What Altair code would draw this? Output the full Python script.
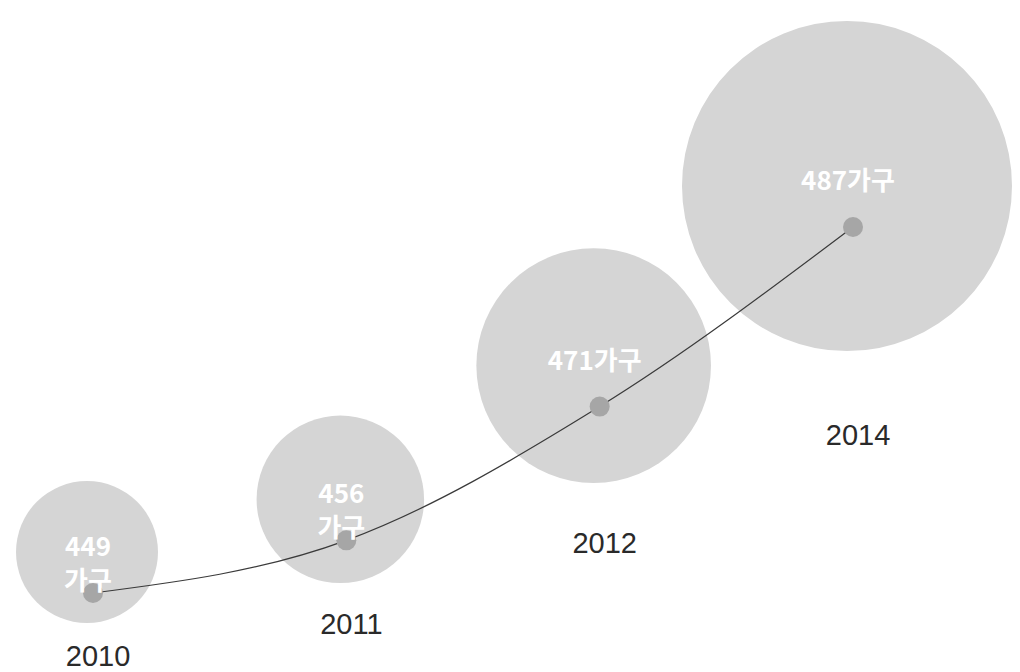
import altair as alt
import pandas as pd

# Data
years = ["2010", "2011", "2012", "2014"]
households = [449, 456, 471, 487]
inner_labels = ["449\n가구", "456\n가구", "471가구", "487가구"]

df = pd.DataFrame({"year": years, "value": households, "label": inner_labels})

x = alt.X("year:O", scale=alt.Scale(type="point", range=[93, 853], padding=0), axis=None)
y = alt.Y(
    "value:Q",
    scale=alt.Scale(type="pow", exponent=8, domain=[449, 487], range=[593, 227], nice=False, zero=False),
    axis=None,
)
y_years = alt.Y(
    "value:Q",
    scale=alt.Scale(type="pow", exponent=8, domain=[449, 487], range=[657, 436], nice=False, zero=False),
    axis=None,
)

base = alt.Chart(df)

bubbles = base.mark_circle(color="#d5d5d5", opacity=1, xOffset=-6, yOffset=-41).encode(
    x=x,
    y=y,
    size=alt.Size(
        "value:Q",
        scale=alt.Scale(type="pow", exponent=20, domain=[449, 487], range=[20164, 108900], zero=False),
        legend=None,
    ),
)

line = base.mark_line(color="#3a3a3a", strokeWidth=1.2, interpolate="monotone").encode(x=x, y=y)

dots = base.mark_circle(color="#a6a6a6", opacity=1, size=400).encode(x=x, y=y)

labels = base.mark_text(
    color="white",
    font="Noto Sans CJK KR",
    fontSize=26,
    fontWeight="bold",
    lineBreak="\n",
    lineHeight=34,
    baseline="middle",
    align="center",
    dy=-45,
    dx=-5,
).encode(x=x, y=y, text="label:N")

year_text = base.mark_text(
    color="#2a2a2a",
    font="Liberation Sans",
    fontSize=29,
    baseline="middle",
    align="center",
    dx=5,
).encode(x=x, y=y_years, text="year:N")

chart = (
    alt.layer(bubbles, line, dots, labels, year_text)
    .resolve_scale(y="independent")
    .properties(width=1020, height=672, autosize="none", padding=0, background="white")
    .configure_view(stroke=None)
)

chart.save("out.html", embed_options={"renderer": "svg", "actions": False})
